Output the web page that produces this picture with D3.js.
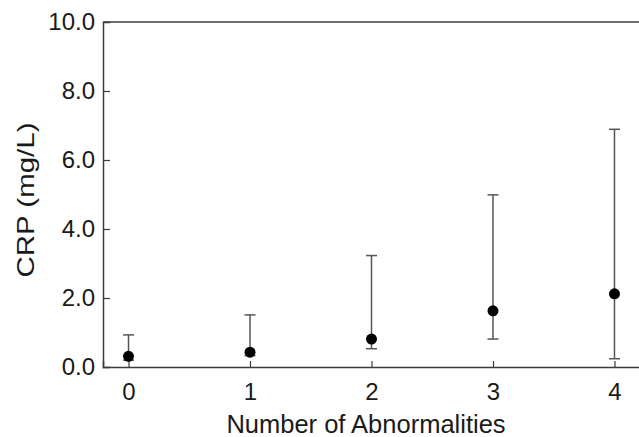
<!DOCTYPE html>
<html>
<head>
<meta charset="utf-8">
<script src="https://cdn.jsdelivr.net/npm/d3@7"></script>
<style>
  body { margin: 0; background: #fff; }
  text { font-family: "Liberation Sans", Arial, sans-serif; fill: #1a1a1a; }
</style>
</head>
<body>
<div id="chart"></div>
<script>
// values
var abnormalities = [0, 1, 2, 3, 4];
var crpMedian = [0.31, 0.43, 0.81, 1.63, 2.12];
var crpLow = [0.2, 0.33, 0.53, 0.81, 0.24];
var crpHigh = [0.93, 1.51, 3.23, 4.99, 6.89];
var yTicks = [0, 2, 4, 6, 8, 10];

var w = 639, h = 437;
var margin = {left: 103, top: 22, right: -1, bottom: 70};

var svg = d3.select("#chart").append("svg")
  .attr("width", w)
  .attr("height", h);

var x = d3.scaleLinear()
  .domain([-0.21, 4.21])
  .range([margin.left, w - margin.right]);

var y = d3.scaleLinear()
  .domain([0, 10])
  .range([h - margin.bottom, margin.top]);

var axisColor = "#3c3c3c";

// frame: top line (right edge runs off the picture)
svg.append("line")
  .attr("x1", x.range()[0]).attr("x2", x.range()[1])
  .attr("y1", y(10)).attr("y2", y(10))
  .attr("stroke", axisColor).attr("stroke-width", 1.5);

var xAxis = svg.append("g")
  .attr("transform", "translate(0," + y(0) + ")")
  .call(d3.axisBottom(x).tickValues(abnormalities).tickSize(-6).tickPadding(16).tickFormat(d3.format("d")));

var yAxis = svg.append("g")
  .attr("transform", "translate(" + x.range()[0] + ",0)")
  .call(d3.axisLeft(y).tickValues(yTicks).tickSize(-7).tickPadding(8).tickFormat(d3.format(".1f")));

[xAxis, yAxis].forEach(function(a) {
  a.select(".domain").attr("stroke", axisColor).attr("stroke-width", 1.5);
  a.selectAll(".tick line").attr("stroke", axisColor).attr("stroke-width", 1.2);
  a.selectAll(".tick text").style("font-size", "24px").attr("fill", "#1a1a1a");
});
yAxis.select(".tick:first-of-type line").remove();
yAxis.select(".tick:last-of-type line").remove();

// error bars
var bars = svg.append("g")
  .selectAll("g")
  .data(abnormalities)
  .enter().append("g")
  .attr("stroke", "#555")
  .attr("stroke-width", 1.5);

bars.append("line")
  .attr("x1", function(d) { return x(d); })
  .attr("x2", function(d) { return x(d); })
  .attr("y1", function(d, i) { return y(crpLow[i]); })
  .attr("y2", function(d, i) { return y(crpHigh[i]); });

bars.append("line")
  .attr("x1", function(d) { return x(d) - 5.5; })
  .attr("x2", function(d) { return x(d) + 5.5; })
  .attr("y1", function(d, i) { return y(crpHigh[i]); })
  .attr("y2", function(d, i) { return y(crpHigh[i]); });

bars.append("line")
  .attr("x1", function(d) { return x(d) - 5.5; })
  .attr("x2", function(d) { return x(d) + 5.5; })
  .attr("y1", function(d, i) { return y(crpLow[i]); })
  .attr("y2", function(d, i) { return y(crpLow[i]); });

svg.append("g")
  .selectAll("circle")
  .data(abnormalities)
  .enter().append("circle")
  .attr("cx", function(d) { return x(d); })
  .attr("cy", function(d, i) { return y(crpMedian[i]); })
  .attr("r", 5.5)
  .attr("fill", "#000");

// axis titles
svg.append("text")
  .attr("x", 366)
  .attr("y", 433)
  .attr("text-anchor", "middle")
  .style("font-size", "25.5px")
  .text("Number of Abnormalities");

svg.append("text")
  .attr("transform", "translate(34,200) rotate(-90)")
  .attr("text-anchor", "middle")
  .attr("textLength", 155)
  .attr("lengthAdjust", "spacingAndGlyphs")
  .style("font-size", "24px")
  .text("CRP (mg/L)");
</script>
</body>
</html>
